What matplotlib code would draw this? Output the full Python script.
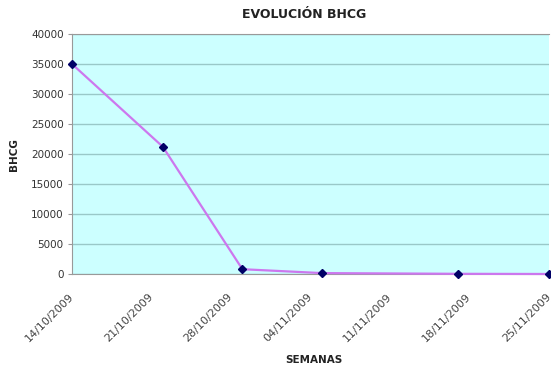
import matplotlib
matplotlib.use("Agg")
import matplotlib.pyplot as plt
import matplotlib.transforms as mtransforms
import datetime as dt

fechas = ["14/10/2009", "22/10/2009", "29/10/2009", "05/11/2009", "17/11/2009", "25/11/2009"]
bhcg = [35000, 21200, 800, 150, 30, 0]
tick_labels = ["14/10/2009", "21/10/2009", "28/10/2009", "04/11/2009", "11/11/2009", "18/11/2009", "25/11/2009"]
y_ticks = [0, 5000, 10000, 15000, 20000, 25000, 30000, 35000, 40000]

parse = lambda s: dt.datetime.strptime(s, "%d/%m/%Y")
x = [parse(s) for s in fechas]
xt = [parse(s) for s in tick_labels]

fig = plt.figure(figsize=(5.51, 3.67), dpi=100)
ax = fig.add_axes([72/551, 1-274/367, (549-72)/551, (274-34)/367])
ax.set_facecolor("#CCFFFF")

ax.plot(x, bhcg, color="#CC77EE", lw=1.6, zorder=3, clip_on=False)
ax.plot(x, bhcg, ls="none", marker="D", ms=4.5, color="#000066", zorder=4, clip_on=False)

ax.set_xlim(xt[0], xt[-1])
ax.set_ylim(0, 40000)
ax.set_yticks(y_ticks)
ax.set_yticklabels([str(v) for v in y_ticks], fontsize=7.5, color="#333333")
ax.set_xticks(xt)
ax.set_xticklabels(tick_labels, rotation=45, ha="right", va="center",
                   rotation_mode="anchor", fontsize=8, color="#444444")
offset = mtransforms.ScaledTranslation(-4/100, 0, fig.dpi_scale_trans)
for lbl in ax.get_xticklabels():
    lbl.set_transform(lbl.get_transform() + offset)
ax.grid(axis="y", color="#99C8C8", lw=1.0)
ax.set_axisbelow(True)
for s in ["left", "bottom", "top"]:
    ax.spines[s].set_color("#999999")
ax.spines["right"].set_visible(False)
ax.tick_params(axis="y", length=3, color="#999999", pad=3)
ax.tick_params(axis="x", length=0, pad=15)

fig.text(304/551, 1-14/367, "EVOLUCIÓN BHCG", ha="center", va="center",
         fontsize=9, fontweight="bold", color="#222222")
fig.text(14/551, 1-155/367, "BHCG", ha="center", va="center", rotation=90,
         fontsize=7.5, fontweight="bold", color="#222222")
fig.text(314/551, 1-360/367, "SEMANAS", ha="center", va="center",
         fontsize=7.5, fontweight="bold", color="#222222")

fig.savefig("out.png", dpi=100)
